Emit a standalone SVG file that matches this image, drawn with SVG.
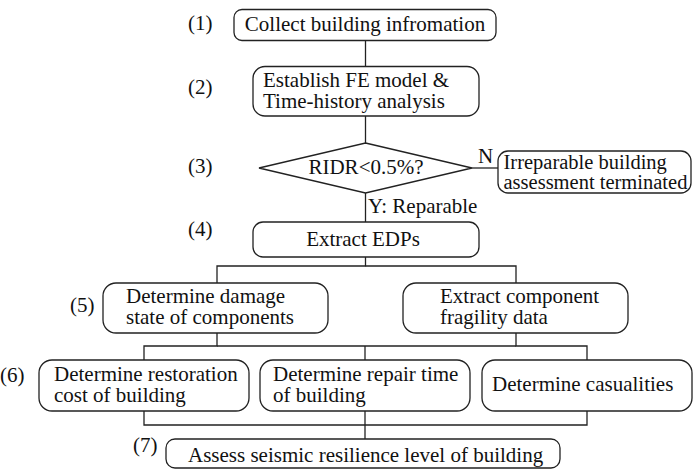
<svg xmlns="http://www.w3.org/2000/svg" width="693" height="470" viewBox="0 0 693 470" font-family="'Liberation Serif', 'DejaVu Serif', serif">
  <style>
    .box { fill: #ffffff; stroke: #222222; stroke-width: 1.3; }
    .wire { fill: none; stroke: #222222; stroke-width: 1.3; }
    .t { font-family: 'Liberation Serif', 'DejaVu Serif', serif; font-size: 21px; fill: #111111; }
    .s { font-size: 20.5px; }
    .mid { text-anchor: middle; }
  </style>
  <rect width="693" height="470" fill="#ffffff"/>

  <!-- connectors -->
  <g id="connectors">
    <line class="wire" x1="365.5" y1="40.5" x2="365.5" y2="66.5"/>
    <line class="wire" x1="365.5" y1="116" x2="365.5" y2="143"/>
    <line class="wire" x1="472" y1="168" x2="498" y2="168"/>
    <line class="wire" x1="365.5" y1="193" x2="365.5" y2="222"/>
    <polyline class="wire" points="365.5,257 365.5,266 217,266 217,283"/>
    <polyline class="wire" points="365.5,266 516,266 516,283"/>
    <polyline class="wire" points="217,333 217,346 144,346 144,360"/>
    <polyline class="wire" points="516,333 516,346 587,346 587,360"/>
    <line class="wire" x1="217" y1="346" x2="516" y2="346"/>
    <line class="wire" x1="365" y1="346" x2="365" y2="360"/>
    <polyline class="wire" points="144,411 144,425 587,425 587,411"/>
    <line class="wire" x1="365" y1="411" x2="365" y2="439"/>
    <text class="t" x="478" y="163">N</text>
    <text class="t" x="368" y="213">Y: Reparable</text>
  </g>

  <!-- step labels -->
  <g id="step-labels">
    <text class="t" x="188" y="30">(1)</text>
    <text class="t" x="188" y="94">(2)</text>
    <text class="t" x="188" y="173">(3)</text>
    <text class="t" x="188" y="236">(4)</text>
    <text class="t" x="70" y="312">(5)</text>
    <text class="t" x="0" y="382">(6)</text>
    <text class="t" x="133" y="452">(7)</text>
  </g>

  <g id="collect-info">
    <rect class="box" x="234" y="9.5" width="262" height="31" rx="8"/>
    <text class="t mid" x="365" y="31">Collect building infromation</text>
  </g>

  <g id="fe-model">
    <rect class="box" x="253" y="66.5" width="226" height="49.5" rx="12"/>
    <text class="t" x="263" y="87">Establish FE model &amp;</text>
    <text class="t" x="263" y="108">Time-history analysis</text>
  </g>

  <g id="ridr-check">
    <polygon class="box" points="365.5,143 472,168 365.5,193 259,168"/>
    <text class="t mid" x="366" y="174">RIDR&lt;0.5%?</text>
  </g>

  <g id="irreparable">
    <rect class="box" x="498" y="151" width="193" height="42" rx="10"/>
    <text class="t s" x="503.5" y="168.5">Irreparable building</text>
    <text class="t s" x="503.5" y="189">assessment terminated</text>
  </g>

  <g id="extract-edps">
    <rect class="box" x="253" y="222" width="226" height="35" rx="10"/>
    <text class="t mid" x="363" y="246">Extract EDPs</text>
  </g>

  <g id="damage-state">
    <rect class="box" x="103" y="283" width="225" height="50" rx="13"/>
    <text class="t" x="126" y="303">Determine damage</text>
    <text class="t" x="126" y="324">state of components</text>
  </g>

  <g id="fragility-data">
    <rect class="box" x="403" y="283" width="225" height="50" rx="13"/>
    <text class="t" x="440" y="303">Extract component</text>
    <text class="t" x="440" y="324">fragility data</text>
  </g>

  <g id="restoration-cost">
    <rect class="box" x="39" y="360" width="210" height="51" rx="13"/>
    <text class="t" x="54" y="381">Determine restoration</text>
    <text class="t" x="54" y="402">cost of building</text>
  </g>

  <g id="repair-time">
    <rect class="box" x="260" y="360" width="210" height="51" rx="13"/>
    <text class="t" x="273" y="381">Determine repair time</text>
    <text class="t" x="273" y="402">of building</text>
  </g>

  <g id="casualties">
    <rect class="box" x="482" y="360" width="210" height="51" rx="13"/>
    <text class="t" x="492" y="391">Determine casualities</text>
  </g>

  <g id="resilience-level">
    <rect class="box" x="166" y="439" width="394" height="29" rx="9"/>
    <text class="t" x="188" y="462">Assess seismic resilience level of building</text>
  </g>
</svg>
